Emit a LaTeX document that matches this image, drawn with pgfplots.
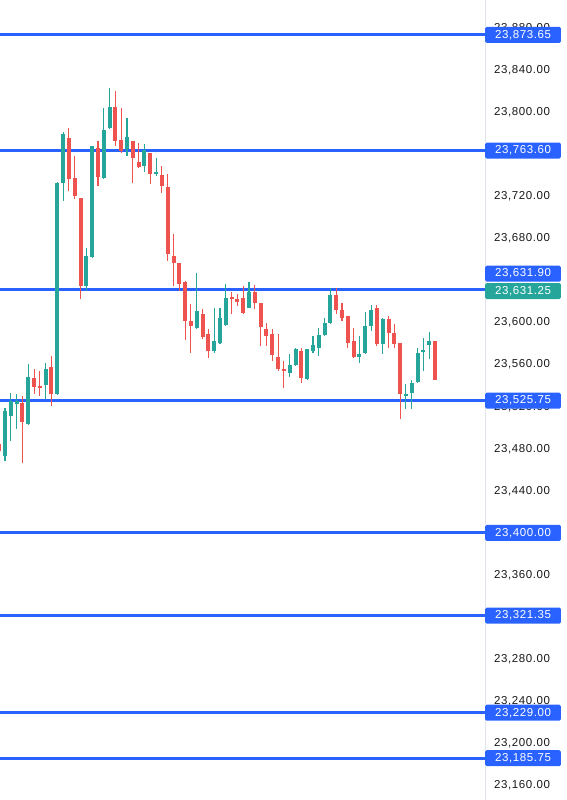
\documentclass[border=0pt]{standalone}
\usepackage{pgfplots}
\pgfplotsset{compat=1.18}
\usepackage{pgfplotstable}
\usepackage{fontspec}
\setmainfont{Liberation Sans}
\newfontfamily\lblfont{Liberation Sans}[LetterSpace=5]
\definecolor{upc}{HTML}{26A69A}
\definecolor{dnc}{HTML}{EF5350}
\definecolor{linec}{HTML}{2962FF}
\definecolor{sepc}{HTML}{E0E3EB}
\tikzset{lab/.style={fill=linec, text=white, font=\lblfont\fontsize{11.5}{12}\selectfont, rounded corners=1.5pt, anchor=west, minimum width=75.7pt, minimum height=16pt, inner sep=0pt}}

\pgfplotstableread{
i o h l c
1 23472.9 23518.6 23468.2 23515.7
2 23511.0 23532.8 23487.2 23525.2
3 23522.4 23531.9 23498.6 23525.2
5 23503.4 23560.4 23502.5 23548.0
8 23540.4 23561.3 23527.1 23555.7
10 23531.9 23733.5 23531.0 23732.5
11 23732.5 23781.0 23715.4 23779.1
15 23634.6 23670.7 23629.8 23663.1
16 23662.2 23768.2 23661.5 23768.0
18 23737.3 23803.8 23737.0 23782.9
19 23784.8 23822.9 23784.5 23804.8
22 23764.9 23794.3 23758.2 23776.3
25 23748.7 23769.6 23743.0 23763.9
27 23741.1 23756.3 23739.2 23743.0
34 23594.7 23646.9 23593.7 23610.8
37 23572.8 23613.7 23570.9 23582.3
38 23580.4 23613.7 23579.4 23604.2
39 23597.5 23636.5 23596.6 23623.2
43 23613.7 23638.4 23613.5 23628.9
50 23551.9 23569.9 23548.0 23559.5
51 23559.5 23575.6 23558.5 23574.7
53 23546.1 23574.7 23545.2 23574.7
54 23572.8 23587.0 23570.9 23578.5
55 23575.6 23594.7 23568.0 23588.0
56 23588.0 23604.2 23587.0 23599.4
57 23599.4 23632.7 23599.0 23626.0
62 23567.1 23587.0 23561.3 23569.9
63 23570.9 23609.9 23569.9 23596.6
64 23596.6 23616.5 23591.8 23611.8
66 23579.4 23604.2 23569.9 23603.2
70 23530.0 23541.4 23517.6 23531.9
71 23532.8 23545.2 23517.6 23542.3
72 23543.3 23575.6 23542.3 23570.9
73 23571.8 23585.1 23553.8 23573.7
74 23578.5 23590.8 23565.2 23582.3
}\upT

\pgfplotstableread{
i o h l c
0 23484.3 23555.7 23472.9 23477.7
4 23523.3 23530.0 23466.3 23505.3
6 23547.1 23555.7 23531.9 23538.5
7 23539.5 23553.8 23530.0 23538.5
9 23557.6 23568.0 23520.5 23531.9
12 23775.3 23784.8 23724.9 23736.3
13 23737.3 23758.2 23717.3 23720.2
14 23718.2 23718.5 23622.2 23634.6
17 23766.2 23772.4 23729.7 23738.2
20 23804.8 23820.0 23767.7 23772.4
21 23773.4 23803.8 23761.1 23763.0
23 23772.4 23772.6 23732.5 23756.3
24 23752.5 23770.6 23746.8 23747.7
26 23761.1 23761.3 23731.6 23741.1
28 23740.1 23748.7 23723.0 23729.7
29 23728.7 23741.1 23658.4 23665.0
30 23663.1 23684.0 23634.6 23656.5
31 23656.5 23656.7 23629.8 23636.5
32 23638.4 23639.3 23583.2 23601.3
33 23601.3 23617.5 23570.9 23596.6
35 23608.0 23612.7 23584.2 23586.1
36 23588.9 23593.7 23566.1 23572.8
40 23624.1 23628.9 23608.0 23622.7
41 23622.2 23627.0 23615.6 23619.4
42 23623.2 23634.6 23608.0 23608.9
44 23628.9 23635.5 23612.7 23618.4
45 23618.4 23618.6 23577.5 23595.6
46 23593.7 23599.4 23577.5 23587.0
47 23588.9 23593.7 23563.3 23569.0
48 23567.1 23588.9 23553.8 23555.7
49 23555.7 23563.3 23537.6 23553.8
52 23572.8 23575.6 23542.3 23547.1
58 23626.0 23632.7 23608.0 23611.8
59 23611.8 23618.4 23601.3 23604.2
60 23606.1 23606.3 23575.6 23580.4
61 23582.3 23594.7 23566.1 23567.1
65 23613.7 23616.5 23577.5 23579.4
67 23603.2 23606.1 23575.6 23589.9
68 23589.9 23598.5 23575.6 23579.4
69 23580.4 23580.6 23508.1 23531.9
75 23582.3 23582.5 23545.0 23545.2
}\dnT

\begin{document}
\begin{tikzpicture}
\begin{axis}[
  set layers,
  scale only axis, width=485pt, height=800pt,
  xmin=0.138, xmax=83.61, ymin=23146.0, ymax=23906.8,
  axis x line=none, axis y line*=right,
  y axis line style={draw=sepc, line width=0.8pt},
  ytick={23160,23200,23240,23280,23360,23440,23480,23520,23560,23600,23680,23720,23800,23840,23880},
  major tick length=0pt,
  scaled y ticks=false,
  /pgf/number format/fixed,
  /pgf/number format/fixed zerofill,
  /pgf/number format/precision=2,
  /pgf/number format/1000 sep={,},
  /pgf/number format/assume math mode=true,
  yticklabel style={font=\lblfont\fontsize{11.5}{12}\selectfont, anchor=west, inner sep=0pt, xshift=9pt, text=black!90},
  clip mode=individual,
]
% horizontal level lines
\pgfplotsinvokeforeach{23873.65,23763.60,23631.90,23525.75,23400.00,23321.35,23229.00,23185.75}{
  \addplot[linec, line width=3pt, forget plot] coordinates {(0.138,#1) (83.61,#1)};
}
% wicks
\addplot[draw=none, mark=none, forget plot, error bars/.cd, y dir=both, y explicit, error mark=none,
  error bar style={draw=upc, line width=1.1pt}]
  table[x=i, y expr={(\thisrow{h}+\thisrow{l})/2}, y error expr={(\thisrow{h}-\thisrow{l})/2}] {\upT};
\addplot[draw=none, mark=none, forget plot, error bars/.cd, y dir=both, y explicit, error mark=none,
  error bar style={draw=dnc, line width=1.1pt}]
  table[x=i, y expr={(\thisrow{h}+\thisrow{l})/2}, y error expr={(\thisrow{h}-\thisrow{l})/2}] {\dnT};
% bodies
\addplot[draw=none, mark=none, forget plot, error bars/.cd, y dir=both, y explicit, error mark=none,
  error bar style={draw=upc, line width=4pt}]
  table[x=i, y expr={(\thisrow{o}+\thisrow{c})/2}, y error expr={max(abs(\thisrow{o}-\thisrow{c})/2,0.6)}] {\upT};
\addplot[draw=none, mark=none, forget plot, error bars/.cd, y dir=both, y explicit, error mark=none,
  error bar style={draw=dnc, line width=4pt}]
  table[x=i, y expr={(\thisrow{o}+\thisrow{c})/2}, y error expr={max(abs(\thisrow{o}-\thisrow{c})/2,0.6)}] {\dnT};
% price labels
\node[lab] at (axis cs:83.61,23873.65) {23,873.65};
\node[lab] at (axis cs:83.61,23763.60) {23,763.60};
\node[lab] at (axis cs:83.61,23646.5) {23,631.90};
\node[lab, fill=upc] at (axis cs:83.61,23630.0) {23,631.25};
\node[lab] at (axis cs:83.61,23525.75) {23,525.75};
\node[lab] at (axis cs:83.61,23400.00) {23,400.00};
\node[lab] at (axis cs:83.61,23321.35) {23,321.35};
\node[lab] at (axis cs:83.61,23229.00) {23,229.00};
\node[lab] at (axis cs:83.61,23185.75) {23,185.75};
\end{axis}
\pgfresetboundingbox
\path[use as bounding box] (0,0) rectangle (567pt,800pt);
\end{tikzpicture}
\end{document}
